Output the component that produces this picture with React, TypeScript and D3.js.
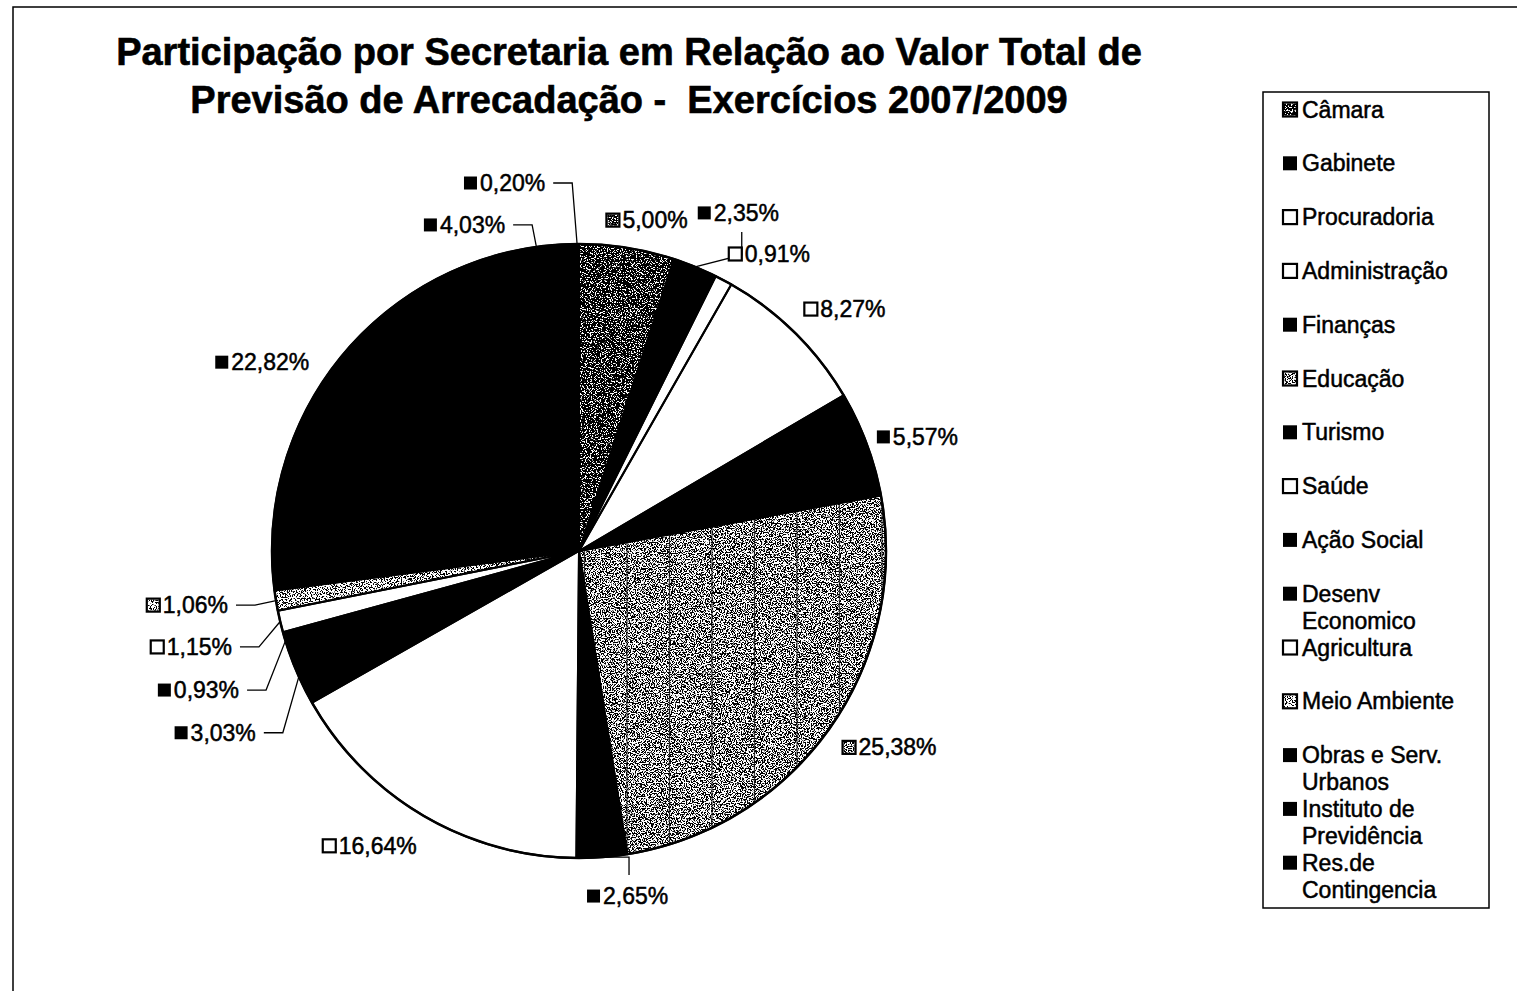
import React from 'react';
import * as d3 from 'd3';

// ---------- data ----------
const categories = [
  'Câmara', 'Gabinete', 'Procuradoria', 'Administração', 'Finanças', 'Educação', 'Turismo',
  'Saúde', 'Ação Social', 'Desenv Economico', 'Agricultura', 'Meio Ambiente',
  'Obras e Serv. Urbanos', 'Instituto de Previdência', 'Res.de Contingencia',
];
const shares = [5.0, 2.35, 0.91, 8.27, 5.57, 25.38, 2.65, 16.64, 3.03, 0.93, 1.15, 1.06, 22.82, 4.03, 0.2];
const legendLines = [
  ['Câmara'], ['Gabinete'], ['Procuradoria'], ['Administração'], ['Finanças'], ['Educação'],
  ['Turismo'], ['Saúde'], ['Ação Social'], ['Desenv', 'Economico'], ['Agricultura'],
  ['Meio Ambiente'], ['Obras e Serv.', 'Urbanos'], ['Instituto de', 'Previdência'], ['Res.de', 'Contingencia'],
];
const fillKinds = ['dark', 'black', 'white', 'white', 'black', 'edu', 'black', 'white', 'black', 'black', 'white', 'light', 'black', 'black', 'black'];
const titleLines = [
  'Participação por Secretaria em Relação ao Valor Total de',
  'Previsão de Arrecadação -  Exercícios 2007/2009',
];

// ---------- layout (label nudges, leader styles) ----------
const labelNudge: [number, number][] = [
  [-25, 0], [-8, -28], [-8, -1.5], [-10, -3.5], [-16, 3], [-10, 3], [-17, 11], [8.5, 6],
  [-16.5, 44.7], [-18.6, 41], [-20, 19], [-19.4, 0], [10, -3], [-26.4, 5.7], [-30.7, -33],
];
const leaderKind = ['none', 'vdown', 'none', 'none', 'none', 'none', 'vup', 'none', 'h', 'h', 'h', 'h', 'none', 'h', 'h'];

const FONT = '"Liberation Sans", Arial, Helvetica, sans-serif';
const LABEL_SIZE = 23;

let measureCtx: CanvasRenderingContext2D | null = null;
function textWidth(t: string, size: number, weight = 'normal') {
  if (!measureCtx) measureCtx = document.createElement('canvas').getContext('2d');
  if (!measureCtx) return t.length * size * 0.55;
  measureCtx.font = `${weight} ${size}px ${FONT}`;
  return measureCtx.measureText(t).width;
}

const locale = d3.formatLocale({ decimal: ',', thousands: '.', grouping: [3], currency: ['', ''] });
const fmt = locale.format('.2f');

function fillFor(kind: string) {
  if (kind === 'black') return '#000';
  return '#fff';
}

export default function App() {
  const W = 1517, H = 991;
  const cx = 579, cy = 551, R = 307;
  const pie = d3.pie<number>().sort(null).value((d) => d).startAngle(0).endAngle(2 * Math.PI);
  const arcs = pie(shares);
  const arcGen = d3.arc<d3.PieArcDatum<number>>().innerRadius(0).outerRadius(R);
  const pt = (a: number, r: number): [number, number] => [cx + r * Math.sin(a), cy - r * Math.cos(a)];

  const grainDefs = [
    { id: 'grain-dark', t: 0.4 },
    { id: 'grain-edu', t: 0.49 },
    { id: 'grain-light', t: 0.52 },
  ];
  const k = 25;

  const eduIndex = fillKinds.indexOf('edu');
  const eduLinesX = d3.range(cx + 5.5, cx + R + 2, 42.5);

  const labels = arcs.map((a, i) => {
    const mid = (a.startAngle + a.endAngle) / 2;
    const [px, py] = pt(mid, R + 28);
    const text = fmt(shares[i]) + '%';
    const tw = textWidth(text, LABEL_SIZE);
    const gw = 17 + tw;
    const rightSide = Math.sin(mid) >= 0;
    const left = (rightSide ? px : px - gw) + labelNudge[i][0];
    const y = py + labelNudge[i][1];
    const edge = pt(mid, R);
    let leader: string | null = null;
    if (leaderKind[i] === 'h') {
      const sx = left + gw + 7;
      leader = `M${sx},${y}L${sx + 19},${y}L${edge[0]},${edge[1]}`;
    } else if (leaderKind[i] === 'vdown') {
      const sx = left + 44;
      leader = `M${sx},${y + 19}L${sx},${y + 42}L${edge[0]},${edge[1]}`;
    } else if (leaderKind[i] === 'vup') {
      const sx = left + 42;
      leader = `M${sx},${y - 21}L${sx},${edge[1]}L${edge[0]},${edge[1]}`;
    }
    return { text, left, y, leader, kind: fillKinds[i] };
  });

  const grainOf = (kind: string) =>
    kind === 'dark' ? 'grain-dark' : kind === 'edu' ? 'grain-edu' : kind === 'light' ? 'grain-light' : null;

  const swatch = (kind: string, x: number, y: number, s: number) => {
    const grain = grainOf(kind);
    return (
      <g>
        <rect x={x} y={y} width={s} height={s} fill={fillFor(kind)} stroke="#000" strokeWidth={kind === 'black' ? 0 : 2.2} />
        {grain && (
          <rect x={x + 1} y={y + 1} width={s - 2} height={s - 2} fill="#000" filter={`url(#${grain})`} />
        )}
      </g>
    );
  };

  const legendX = 1263, legendY = 92, legendW = 226, legendH = 816;
  const legendStep = 53.8;

  return (
    <svg
      width={W}
      height={H}
      viewBox={`0 0 ${W} ${H}`}
      style={{ position: 'absolute', left: 0, top: 0, background: '#fff' }}
      fontFamily={FONT}
    >
      <defs>
        {grainDefs.map((g) => (
          <filter key={g.id} id={g.id} x="0" y="0" width="1" height="1" colorInterpolationFilters="sRGB">
            <feTurbulence type="fractalNoise" baseFrequency="0.8" numOctaves={2} seed={7} result="n" />
            <feColorMatrix
              in="n"
              type="matrix"
              values={`0 0 0 0 0  0 0 0 0 0  0 0 0 0 0  ${k} 0 0 0 ${-k * g.t}`}
              result="dots"
            />
            <feComposite in="dots" in2="SourceGraphic" operator="in" />
          </filter>
        ))}
        <clipPath id="edu-clip">
          <path d={arcGen(arcs[eduIndex]) || ''} transform={`translate(${cx},${cy})`} />
        </clipPath>
      </defs>

      <rect x={0} y={0} width={W} height={H} fill="#fff" />
      {/* outer frame */}
      <rect x={13} y={7} width={W + 20} height={H + 20} fill="none" stroke="#000" strokeWidth={1.5} />

      {/* title */}
      {titleLines.map((t, i) => (
        <text
          key={i}
          x={629}
          y={65 + i * 48}
          textAnchor="middle"
          fontSize={38}
          fontWeight="bold"
          stroke="#000"
          strokeWidth={0.6}
          style={{ whiteSpace: 'pre' }}
        >
          {t}
        </text>
      ))}

      {/* pie */}
      <g transform={`translate(${cx},${cy})`}>
        {arcs.map((a, i) => {
          const kind = fillKinds[i];
          const grain = grainOf(kind);
          const d = arcGen(a) || '';
          return (
            <g key={categories[i]}>
              <path d={d} fill={fillFor(kind)} />
              {grain && <path d={d} fill="#000" filter={`url(#${grain})`} />}
            </g>
          );
        })}
      </g>
      <g clipPath="url(#edu-clip)">
        {eduLinesX.map((x, i) => (
          <line key={i} x1={x} x2={x} y1={cy - R} y2={cy + R} stroke="#111" strokeWidth={1.2} opacity={0.8} />
        ))}
      </g>
      <g transform={`translate(${cx},${cy})`}>
        {arcs.map((a, i) => (
          <path key={i} d={arcGen(a) || ''} fill="none" stroke="#000" strokeWidth={2} strokeLinejoin="round" />
        ))}
        <circle r={R} fill="none" stroke="#000" strokeWidth={2.5} />
      </g>

      {/* leaders */}
      {labels.map((l, i) =>
        l.leader ? <path key={i} d={l.leader} fill="none" stroke="#000" strokeWidth={1.3} /> : null
      )}

      {/* data labels */}
      {labels.map((l, i) => (
        <g key={i}>
          {swatch(l.kind, l.left, l.y - 6.5, 13)}
          <text x={l.left + 16} y={l.y + 8} fontSize={LABEL_SIZE} fill="#000" stroke="#000" strokeWidth={0.5}>
            {l.text}
          </text>
        </g>
      ))}

      {/* legend */}
      <rect x={legendX} y={legendY} width={legendW} height={legendH} fill="#fff" stroke="#000" strokeWidth={1.5} />
      {legendLines.map((lines, i) => {
        const yc = legendY + 17.5 + i * legendStep;
        return (
          <g key={i}>
            {swatch(fillKinds[i], 1283, yc - 7, 14)}
            {lines.map((t, j) => (
              <text key={j} x={1302} y={yc + 8 + j * 27} fontSize={LABEL_SIZE} fill="#000" stroke="#000" strokeWidth={0.5}>
                {t}
              </text>
            ))}
          </g>
        );
      })}
    </svg>
  );
}
